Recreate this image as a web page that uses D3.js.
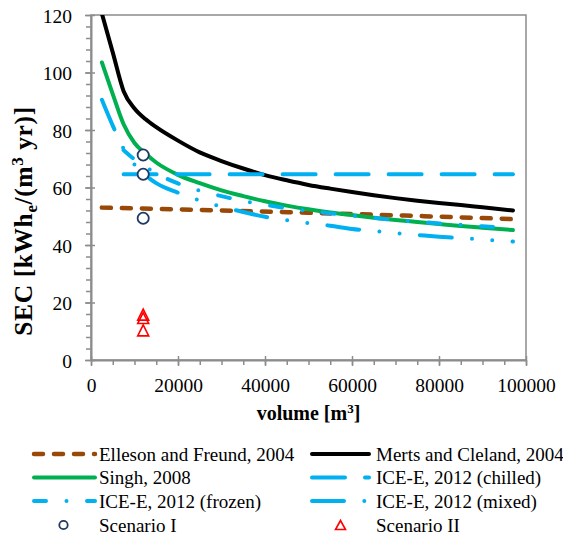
<!DOCTYPE html>
<html><head><meta charset="utf-8">
<script src="https://cdn.jsdelivr.net/npm/d3@7"></script>
<style>body{margin:0;background:#fff} svg{display:block} text{font-family:'Liberation Serif','Times New Roman',serif;}</style>
</head><body><svg id="c" width="563" height="538"></svg>
<script>
// ---- data ----
const volumes = [2500,5000,7500,10000,12500,15000,20000,25000,30000,35000,40000,45000,50000,55000,60000,65000,70000,75000,80000,85000,90000,97000];
const merts   = [120.5,107.0,93.5,87.5,83.8,81.0,76.3,72.2,69.2,66.6,64.3,62.5,60.9,59.6,58.4,57.3,56.3,55.4,54.6,53.9,53.1,52.0];
const singh   = [103.5,92.5,82.0,75.5,71.8,68.7,64.4,61.5,59.0,57.0,55.2,53.7,52.4,51.3,50.4,49.5,48.7,48.0,47.3,46.6,46.0,45.2];
const mixed   = [90.5,81.5,73.5,68.0,64.3,61.5,58.2,55.5,53.3,51.5,49.8,48.6,47.6,46.7,45.6,44.9,44.1,43.5,42.9,42.4,41.9,41.2];
const frozenVolumes = [7500,10000,12500,15000,20000,25000,30000,35000,40000,45000,50000,55000,60000,65000,70000,75000,80000,85000,90000,97000];
const frozen  = [73.0,69.8,67.2,64.9,61.4,58.9,57.0,55.3,54.0,52.8,51.8,51.0,50.2,49.4,48.7,48.1,47.5,47.0,46.5,45.9];
const chilledVolumes = [7500,97000];
const chilled = [64.6,64.6];
const ellesonVolumes = [2500,25000,50000,75000,97000];
const elleson = [53.0,52.2,51.2,50.1,49.0];
const scenarioIVolumes = [12000,12000,12000];
const scenarioI = [71.3,64.6,49.3];
const scenarioIIVolumes = [12000,12000,12000];
const scenarioII = [15.8,14.6,10.3];
const xTicks = [0,20000,40000,60000,80000,100000];
const yTicks = [0,20,40,60,80,100,120];

const seriesNames = ["Elleson and Freund, 2004","Merts and Cleland, 2004","Singh, 2008","ICE-E, 2012 (chilled)","ICE-E, 2012 (frozen)","ICE-E, 2012 (mixed)","Scenario I","Scenario II"];

const lineSeries = [
  {name:seriesNames[0], xs:ellesonVolumes, ys:elleson, color:"#984807", w:4.5, dash:"9 11"},
  {name:seriesNames[1], xs:volumes, ys:merts, color:"#000000", w:4, dash:null},
  {name:seriesNames[2], xs:volumes, ys:singh, color:"#00B050", w:4, dash:null},
  {name:seriesNames[3], xs:chilledVolumes, ys:chilled, color:"#00B0F0", w:4, dash:"33 20"},
  {name:seriesNames[4], xs:frozenVolumes, ys:frozen, color:"#00B0F0", w:4, dash:"12 20.5 0 20.5"},
  {name:seriesNames[5], xs:volumes, ys:mixed, color:"#00B0F0", w:4, dash:"32 20.3 0 20.3 0 20.3"}
];

const FONT = "'Liberation Serif','Times New Roman',serif";
const svg = d3.select("#c");
const L = 91, R = 526, T = 15, B = 360;
const x = d3.scaleLinear().domain([0,100000]).range([L,R]);
const y = d3.scaleLinear().domain([0,120]).range([B,T]);
const axisCol = "#8c8c8c";

svg.append("defs").append("clipPath").attr("id","clip")
  .append("rect").attr("x",L).attr("y",T).attr("width",R-L).attr("height",B-T);

// plot border
svg.append("rect").attr("x",L).attr("y",T).attr("width",R-L).attr("height",B-T)
  .attr("fill","none").attr("stroke",axisCol).attr("stroke-width",1.5);

// minor ticks
const yMinor = d3.range(0,121,4);
svg.append("g").attr("transform",`translate(${L},0)`)
  .call(d3.axisLeft(y).tickValues(yMinor).tickSize(5).tickFormat(""))
  .call(g=>{g.select(".domain").remove(); g.selectAll("line").attr("stroke",axisCol).attr("stroke-width",1.5);});
const xMinor = d3.range(0,100001,5000);
svg.append("g").attr("transform",`translate(0,${B})`)
  .call(d3.axisBottom(x).tickValues(xMinor).tickSize(5).tickFormat(""))
  .call(g=>{g.select(".domain").remove(); g.selectAll("line").attr("stroke",axisCol).attr("stroke-width",1.5);});

// major axes
const yAx = svg.append("g").attr("transform",`translate(${L},0)`)
  .call(d3.axisLeft(y).tickValues(yTicks).tickSize(6).tickPadding(13).tickSizeOuter(0));
yAx.attr("font-family",null);
yAx.select(".domain").attr("stroke",axisCol).attr("stroke-width",2);
yAx.selectAll("line").attr("stroke",axisCol).attr("stroke-width",1.5).attr("x1",4);
yAx.selectAll("text").style("font-family",FONT).attr("font-size",19.5).attr("fill","#000").attr("dy","0.38em");

const xAx = svg.append("g").attr("transform",`translate(0,${B})`)
  .call(d3.axisBottom(x).tickValues(xTicks).tickSize(6).tickPadding(12.5).tickSizeOuter(0).tickFormat(d3.format("d")));
xAx.attr("font-family",null);
xAx.select(".domain").attr("stroke",axisCol).attr("stroke-width",2);
xAx.selectAll("line").attr("stroke",axisCol).attr("stroke-width",1.5).attr("y1",-4);
xAx.selectAll("text").style("font-family",FONT).attr("font-size",19.5).attr("fill","#000");

// axis titles
const xt = svg.append("text").attr("x",(L+R)/2).attr("y",420).attr("text-anchor","middle")
  .style("font-family",FONT).attr("font-size",20).attr("font-weight","bold");
xt.append("tspan").text("volume [m");
xt.append("tspan").attr("dy",-7).attr("font-size",13).text("3");
xt.append("tspan").attr("dy",7).text("]");

const yt = svg.append("text").attr("transform",`translate(32,221) rotate(-90)`).attr("text-anchor","middle")
  .style("font-family",FONT).attr("font-size",25.5).attr("font-weight","bold").attr("letter-spacing",0.6);
yt.append("tspan").text("SEC [kWh");
yt.append("tspan").attr("dy",5).attr("font-size",17).text("e");
yt.append("tspan").attr("dy",-5).text("/(m");
yt.append("tspan").attr("dy",-9).attr("font-size",17).text("3");
yt.append("tspan").attr("dy",9).text(" yr)]");

// lines
const plot = svg.append("g").attr("clip-path","url(#clip)");
const lineGen = d3.line().curve(d3.curveMonotoneX);
lineSeries.forEach(s=>{
  const pts = s.xs.map((v,i)=>[x(v), y(s.ys[i])]);
  plot.append("path").attr("d",lineGen(pts)).attr("fill","none")
    .attr("stroke",s.color).attr("stroke-width",s.w).attr("stroke-linecap","round")
    .attr("stroke-linejoin","round").attr("stroke-dasharray",s.dash);
});

// markers
const navy = "#1f3864";
plot.selectAll("circle.s1").data(scenarioI).join("circle")
  .attr("cx",(d,i)=>x(scenarioIVolumes[i])).attr("cy",d=>y(d)).attr("r",5.6)
  .attr("fill","#fff").attr("stroke",navy).attr("stroke-width",1.8);
function tri(cx,cy,hw,hh){return `M${cx},${cy-hh}L${cx+hw},${cy+hh}L${cx-hw},${cy+hh}Z`;}
plot.selectAll("path.s2").data(scenarioII).join("path")
  .attr("d",(d,i)=>tri(x(scenarioIIVolumes[i]),y(d),5.5,5.5))
  .attr("fill","none").attr("stroke","#ff0000").attr("stroke-width",1.6);

// legend
const legendItems = [
  {col:0,row:0,s:lineSeries[0]},{col:1,row:0,s:lineSeries[1]},
  {col:0,row:1,s:lineSeries[2]},{col:1,row:1,s:lineSeries[3]},
  {col:0,row:2,s:lineSeries[4]},{col:1,row:2,s:lineSeries[5]},
  {col:0,row:3,marker:"circle",name:seriesNames[6]},{col:1,row:3,marker:"tri",name:seriesNames[7]}
];
const colX = [34, 312], colTextX = [99, 376], rowY = [454, 477.5, 501, 525];
legendItems.forEach(it=>{
  const ly = rowY[it.row], lx = colX[it.col];
  if(it.s){
    svg.append("line").attr("x1",lx).attr("x2",lx+(it.col===0?61:57)).attr("y1",ly).attr("y2",ly)
      .attr("stroke",it.s.color).attr("stroke-width",it.s.w).attr("stroke-linecap","round")
      .attr("stroke-dasharray",it.s.dash);
  } else if(it.marker==="circle"){
    svg.append("circle").attr("cx",63.5).attr("cy",ly).attr("r",4.2).attr("fill","#fff")
      .attr("stroke",navy).attr("stroke-width",1.8);
  } else {
    svg.append("path").attr("d",tri(340.5,ly,5,4.5)).attr("fill","none").attr("stroke","#ff0000").attr("stroke-width",1.6);
  }
  svg.append("text").attr("x",colTextX[it.col]).attr("y",ly+6.5).style("font-family",FONT)
    .attr("font-size",19).attr("fill","#000").text(it.s?it.s.name:it.name);
});
</script></body></html>
